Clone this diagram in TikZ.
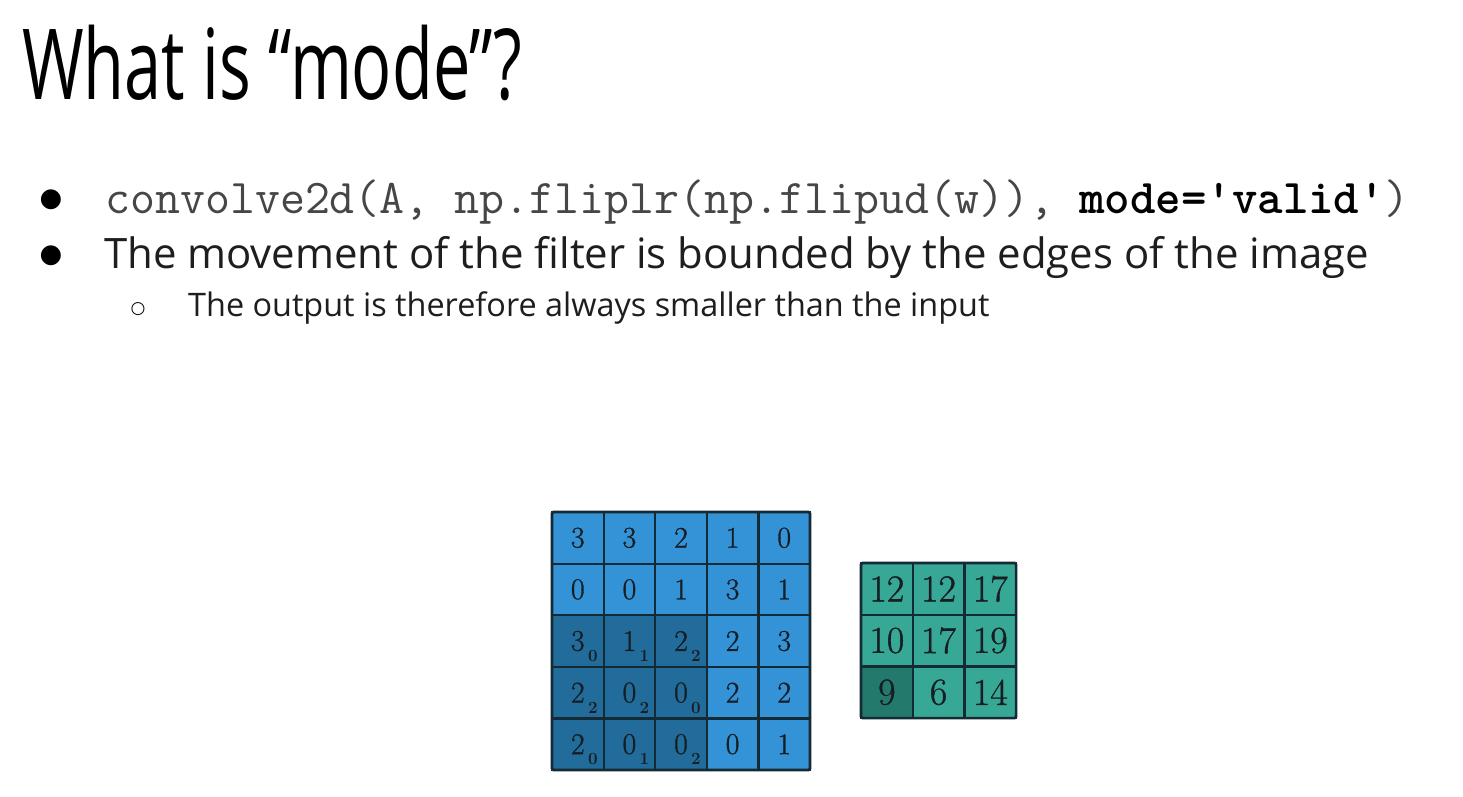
\documentclass[tikz,border=0pt]{standalone}
\usepackage{fontspec}
\setmainfont{Latin Modern Roman}
\newfontfamily\titlefont[FakeStretch=0.68]{Open Sans}
\newfontfamily\bodyfont{Open Sans}
\newfontfamily\symfont{DejaVu Sans}
\newfontfamily\digitfont[FakeBold=1.0]{Latin Modern Roman}
\definecolor{inblue}{RGB}{52,146,214}
\definecolor{indark}{RGB}{33,108,154}
\definecolor{outteal}{RGB}{56,168,150}
\definecolor{outdark}{RGB}{35,122,108}
\definecolor{gridline}{RGB}{20,42,52}
\definecolor{codegray}{RGB}{70,70,70}
\definecolor{textgray}{RGB}{30,30,30}
\definecolor{digitink}{RGB}{22,30,36}
\tikzset{
  cellin/.style={draw=gridline, line width=2.2pt, fill=inblue, minimum size=51.6, inner sep=0pt, outer sep=0pt},
  celldark/.style={cellin, fill=indark},
  cellout/.style={draw=gridline, line width=2.2pt, fill=outteal, minimum size=51.7, inner sep=0pt, outer sep=0pt},
  celloutdark/.style={cellout, fill=outdark},
  digit/.style={font=\digitfont\fontsize{30}{30}\selectfont, text=digitink, inner sep=0pt},
  subdigit/.style={font=\fontsize{17}{17}\selectfont\bfseries, text=digitink, inner sep=0pt},
  bigdigit/.style={font=\digitfont\fontsize{38}{38}\selectfont, text=digitink, inner sep=0pt},
}
\begin{document}
\begin{tikzpicture}[x=1pt,y=-1pt]
\useasboundingbox (0,0) rectangle (1463,797);
\fill[white] (0,0) rectangle (1463,797);

% heading
\node[anchor=base west, inner sep=0pt, font=\titlefont\fontsize{98}{98}\selectfont] (title) at (22,100) {What is “mode”?};

% bullets
\node[inner sep=0pt, font=\symfont\fontsize{26}{26}\selectfont] (b1) at (51,200) {●};
\node[anchor=base west, inner sep=0pt, text=codegray, font=\ttfamily\fontsize{48.5}{48.5}\selectfont] (code) at (105,213)
  {convolve2d(A, np.fliplr(np.flipud(w)), \textbf{\textcolor{black}{mode='valid'}})};
\node[inner sep=0pt, font=\symfont\fontsize{26}{26}\selectfont] (b2) at (51,256) {●};
\node[anchor=base west, inner sep=0pt, text=textgray, font=\bodyfont\fontsize{41.9}{41.9}\selectfont] (line2) at (104,268)
  {The movement of the filter is bounded by the edges of the image};
\node[inner sep=0pt, font=\symfont\fontsize{17}{17}\selectfont] (b3) at (138,309) {○};
\node[anchor=base west, inner sep=0pt, text=textgray, font=\bodyfont\fontsize{32.4}{32.4}\selectfont] (line3) at (188,316)
  {The output is therefore always smaller than the input};

% input image, 5x5, with the 3x3 filter window over the lower left
\foreach \r/\row in {0/{3,3,2,1,0},1/{0,0,1,3,1},2/{3,1,2,2,3},3/{2,0,0,2,2},4/{2,0,0,0,1}} {
  \foreach \v [count=\c from 0] in \row {
    \pgfmathtruncatemacro{\isdark}{(\r>1)&&(\c<3)}
    \ifnum\isdark=1
      \node[celldark] (in-\r-\c) at ({552+25.8+51.6*\c},{512+25.8+51.6*\r}) {};
    \else
      \node[cellin] (in-\r-\c) at ({552+25.8+51.6*\c},{512+25.8+51.6*\r}) {};
    \fi
    \node[digit] (inv-\r-\c) at (in-\r-\c.center) {\v};
  }
}
% filter weights
\foreach \r/\wrow in {2/{0,1,2},3/{2,2,0},4/{0,1,2}} {
  \foreach \w [count=\c from 0] in \wrow {
    \node[subdigit] (w-\r-\c) at ([shift={(15,15)}]in-\r-\c.center) {\w};
  }
}
\draw[gridline, line width=2.6pt, rounded corners=1.5pt] (in-0-0.north west) rectangle (in-4-4.south east);

% output, 3x3
\foreach \r/\row in {0/{12,12,17},1/{10,17,19},2/{9,6,14}} {
  \foreach \v [count=\c from 0] in \row {
    \pgfmathtruncatemacro{\isdark}{(\r==2)&&(\c==0)}
    \ifnum\isdark=1
      \node[celloutdark] (out-\r-\c) at ({861+25.85+51.7*\c},{563+25.85+51.7*\r}) {};
    \else
      \node[cellout] (out-\r-\c) at ({861+25.85+51.7*\c},{563+25.85+51.7*\r}) {};
    \fi
    \node[bigdigit] (outv-\r-\c) at (out-\r-\c.center) {\v};
  }
}
\draw[gridline, line width=2.6pt, rounded corners=1.5pt] (out-0-0.north west) rectangle (out-2-2.south east);
\end{tikzpicture}
\end{document}
